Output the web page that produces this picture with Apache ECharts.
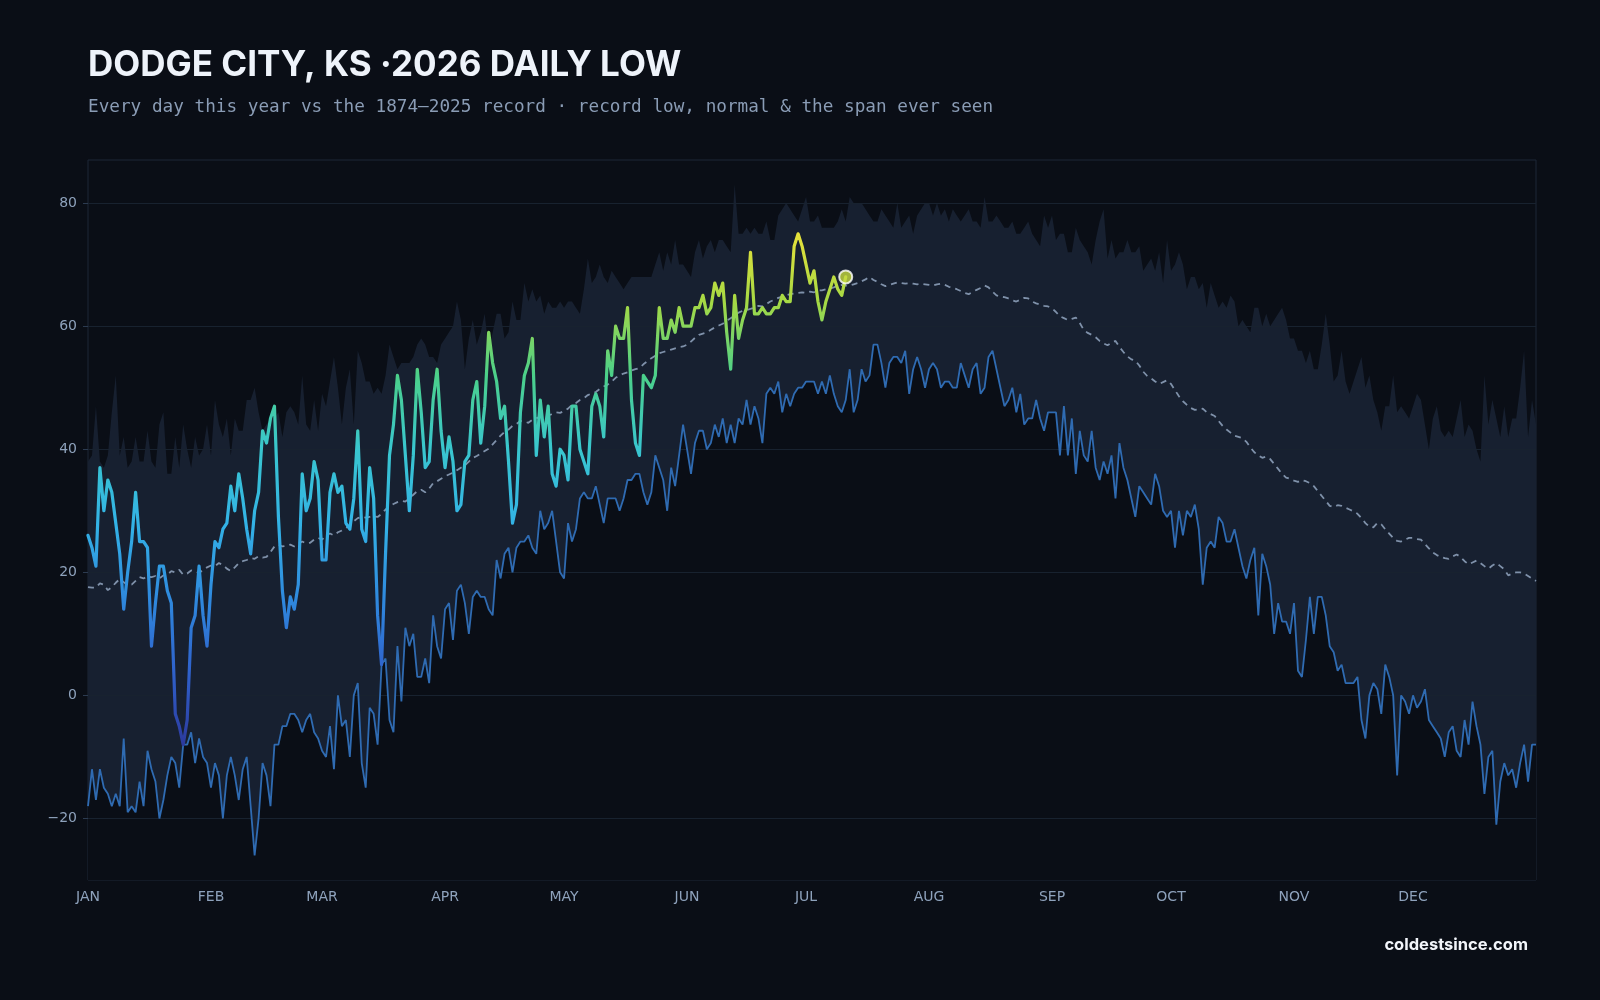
<!DOCTYPE html>
<html><head><meta charset="utf-8">
<style>html,body{margin:0;padding:0;background:#0a0e16;}#c{width:1600px;height:1000px;}</style>
<script src="https://cdn.jsdelivr.net/npm/echarts@6/dist/echarts.min.js"></script>
</head><body><div id="c"></div>
<script>
// Month tick positions (day-of-year index) and labels
const monthDays = [0,31,59,90,120,151,181,212,243,273,304,334];
const monthLabels = ['JAN','FEB','MAR','APR','MAY','JUN','JUL','AUG','SEP','OCT','NOV','DEC'];
const yTicks = [-20,0,20,40,60,80];

// Record high daily low (top of the span), day 0..365
const recordHigh = [
38,39,47,38,37,39,46,52,39,42,
37,38,42,38,38,43,38,37,44,46,
36,36,42,37,44,40,37,42,39,40,
44,39,48,44,42,45,39,45,43,43,
48,48,50,46,43,44,45,45,46,42,
46,47,46,44,52,44,43,48,43,49,
47,51,55,50,44,50,53,44,56,54,
51,51,49,50,49,52,57,55,53,54,
54,54,55,57,58,57,55,55,54,57,
58,59,60,64,61,53,58,61,57,59,
62,56,59,62,62,58,59,64,61,61,
67,64,66,64,65,62,64,63,63,64,
63,64,64,63,62,66,71,67,68,70,
68,67,69,68,67,66,67,68,68,68,
68,68,68,70,72,69,72,70,74,70,
70,69,68,72,74,71,73,74,72,74,
74,73,72,83,75,75,76,75,76,75,
75,77,74,74,78,79,80,79,78,77,
79,81,77,77,78,76,76,76,76,77,
79,77,81,80,80,80,79,78,77,77,
79,78,77,76,80,76,77,78,75,78,
79,80,80,78,80,78,79,77,79,78,
77,78,79,77,77,76,81,77,77,78,
77,76,76,77,75,75,76,77,75,74,
73,78,76,78,74,75,75,72,72,76,
74,73,72,70,74,77,79,71,74,71,
72,72,74,72,72,73,69,70,71,69,
72,67,74,69,70,72,70,66,68,68,
66,67,63,67,65,63,64,63,65,64,
60,61,60,59,63,63,60,62,60,61,
62,63,61,58,58,56,56,54,56,53,
53,57,62,57,51,52,56,51,49,51,
53,55,50,52,48,46,43,47,47,52,
46,47,46,45,47,49,48,44,40,45,
47,43,42,43,42,45,48,42,44,43,
40,38,52,44,48,45,42,47,42,45,
45,50,56,42,48,44];

// Record low daily low, day 0..365
const recordLow = [
-18,-12,-17,-12,-15,-16,-18,-16,-18,-7,
-19,-18,-19,-14,-18,-9,-12,-14,-20,-17,
-13,-10,-11,-15,-8,-8,-6,-11,-7,-10,
-11,-15,-11,-13,-20,-13,-10,-13,-17,-12,
-10,-18,-26,-20,-11,-13,-18,-8,-8,-5,
-5,-3,-3,-4,-6,-4,-3,-6,-7,-9,
-10,-5,-12,0,-5,-4,-10,0,2,-11,
-15,-2,-3,-8,5,6,-4,-6,8,-1,
11,8,10,3,3,6,2,13,8,6,
14,15,9,17,18,15,10,16,17,16,
16,14,13,22,19,23,24,20,24,25,
25,26,24,23,30,27,28,30,25,20,
19,28,25,27,32,33,32,32,34,31,
28,32,32,32,30,32,35,35,36,36,
33,31,33,39,37,35,30,37,34,39,
44,40,36,41,43,43,40,41,44,42,
45,41,44,41,45,44,48,44,47,45,
41,49,50,49,51,46,49,47,49,50,
50,51,51,51,49,51,49,52,49,47,
46,48,53,46,48,53,51,52,57,57,
54,50,54,55,55,54,56,49,53,55,
53,50,53,54,53,50,51,51,50,50,
54,52,50,53,54,49,50,55,56,53,
50,47,48,50,46,49,44,45,45,48,
45,43,46,46,46,39,47,39,45,36,
43,39,38,43,37,35,38,36,39,32,
41,37,35,32,29,34,33,32,31,36,
34,30,29,30,24,30,26,30,29,31,
27,18,24,25,24,29,28,25,25,27,
24,21,19,22,24,13,23,21,18,10,
15,12,12,10,15,4,3,9,16,10,
16,16,13,8,7,4,5,2,2,2,
3,-4,-7,0,2,1,-3,5,3,0,
-13,0,-1,-3,0,-2,-1,1,-4,-5,
-6,-7,-10,-6,-5,-9,-10,-4,-8,-1,
-5,-8,-16,-10,-9,-21,-14,-11,-13,-12,
-15,-11,-8,-14,-8,-8];

// Normal daily low, day 0..365
const normalLow = [
17.6,17.5,17.5,18.2,18.0,17.1,17.6,18.3,18.9,18.4,
17.9,18.0,18.6,19.2,19.0,19.3,19.2,19.4,19.0,19.5,
19.6,20.2,20.0,20.4,19.6,19.8,20.3,20.1,19.9,20.4,
20.8,21.1,21.0,21.5,21.2,20.6,20.2,20.8,21.5,21.8,
22.0,22.3,22.2,22.6,22.4,22.5,23.3,24.2,24.5,24.2,
24.3,24.5,24.2,24.6,25.0,24.7,24.8,25.3,25.6,25.3,
26.0,26.3,26.0,26.5,26.8,27.2,27.6,28.3,28.8,29.0,
28.9,29.0,29.1,29.0,29.5,30.2,30.7,31.1,31.4,31.6,
31.5,32.0,32.6,33.2,33.4,33.0,33.6,34.5,34.8,35.2,
35.6,35.9,36.2,36.6,37.0,37.4,38.0,38.6,38.9,39.3,
39.7,40.1,40.8,41.5,42.2,42.8,43.2,43.8,44.1,44.6,
44.5,44.3,44.8,45.0,45.3,45.1,45.5,45.7,46.0,45.9,
46.2,46.6,47.2,47.5,48.0,48.3,48.8,49.1,49.3,49.8,
50.2,50.5,51.0,51.6,52.0,52.3,52.5,52.8,53.0,53.2,
53.8,54.3,54.8,55.2,55.6,55.8,56.0,56.2,56.4,56.6,
56.7,57.0,57.5,58.1,58.6,58.8,59.0,59.4,59.8,60.1,
60.4,60.9,61.3,61.7,62.2,62.5,62.6,62.8,63.0,63.3,
63.2,63.6,64.0,64.3,64.6,64.8,65.0,65.2,65.3,65.4,
65.5,65.4,65.6,65.5,65.8,65.8,66.0,66.1,66.3,66.6,
66.7,66.6,66.6,66.8,67.0,67.3,67.6,68.0,67.5,67.2,
66.8,66.5,66.7,66.9,67.1,67.0,66.9,67.0,66.9,66.8,
66.9,66.8,66.7,66.6,66.8,66.9,66.7,66.4,66.2,66.0,
65.7,65.4,65.2,65.6,65.9,66.2,66.6,66.3,65.6,65.0,
64.8,64.7,64.5,64.2,64.0,64.3,64.6,64.5,64.0,63.7,
63.5,63.3,63.2,62.9,62.3,61.6,61.3,61.0,61.2,61.4,
60.5,59.4,58.9,58.6,58.2,57.6,57.2,56.9,57.3,57.6,
56.6,55.8,55.1,54.6,54.4,53.6,52.6,51.9,51.5,51.0,
50.6,50.9,51.2,50.6,49.6,48.6,47.8,47.2,46.7,46.4,
46.5,46.6,46.0,45.7,45.4,44.6,43.8,43.2,42.7,42.2,
42.0,41.8,41.2,40.3,39.5,39.0,38.6,38.8,38.4,37.6,
36.8,36.0,35.4,35.2,34.9,34.7,35.0,34.8,34.5,34.0,
33.2,32.4,31.6,30.8,30.6,30.9,30.8,30.5,30.2,29.9,
29.5,28.8,28.0,27.4,27.3,28.0,27.8,27.0,26.3,25.6,
25.1,25.0,25.3,25.6,25.6,25.4,25.3,24.6,23.9,23.2,
22.8,22.5,22.3,22.2,22.6,22.9,22.5,21.8,21.3,21.6,
21.9,21.5,21.0,20.6,21.1,21.5,21.0,20.5,19.5,19.8,
20.0,20.0,19.8,19.4,19.0,18.6];

// 2026 observed daily low, day 0..191
const thisYear = [
26,24,21,37,30,35,33,28,23,14,
20,25,33,25,25,24,8,15,21,21,
17,15,-3,-5,-8,-4,11,13,21,13,
8,18,25,24,27,28,34,30,36,32,
27,23,30,33,43,41,45,47,29,17,
11,16,14,18,36,30,32,38,35,22,
22,33,36,33,34,28,27,32,43,27,
25,37,32,13,5,23,39,44,52,48,
39,30,39,53,46,37,38,48,53,43,
37,42,38,30,31,38,39,48,51,41,
47,59,54,51,45,47,38,28,31,46,
52,54,58,39,48,42,47,36,34,40,
39,35,47,47,40,38,36,47,49,47,
42,56,52,60,58,58,63,48,41,39,
52,51,50,52,63,58,58,61,59,63,
60,60,60,63,63,65,62,63,67,65,
67,59,53,65,58,61,63,72,62,62,
63,62,62,63,63,65,64,64,73,75,
73,70,67,69,64,61,64,66,68,66,
65,68];

const pair = arr => arr.map((v, i) => [i, v]);
const lastIdx = thisYear.length - 1;
const BG = '#0a0e16';

const chart = echarts.init(document.getElementById('c'), null, {renderer: 'canvas'});
chart.setOption({
  backgroundColor: BG,
  animation: false,
  grid: {left: 88, right: 64, top: 160, bottom: 120, show: true, borderColor: '#1c2737', borderWidth: 1, backgroundColor: 'transparent'},
  xAxis: {
    type: 'value', min: 0, max: 365,
    axisLine: {show: false},
    splitLine: {show: false},
    axisTick: {show: true, customValues: monthDays, length: 5, lineStyle: {color: '#2c3b50'}},
    axisLabel: {
      customValues: monthDays, margin: 10, color: '#8ea2bc', fontSize: 14, fontFamily: 'DejaVu Sans',
      formatter: v => monthLabels[monthDays.indexOf(v)] || ''
    }
  },
  yAxis: {
    type: 'value', min: -30, max: 87,
    axisLine: {show: false},
    splitLine: {show: false},
    axisTick: {show: true, customValues: yTicks, length: 5, lineStyle: {color: '#2c3b50'}},
    axisLabel: {
      customValues: yTicks, margin: 11, color: '#8ea2bc', fontSize: 14, fontFamily: 'DejaVu Sans',
      formatter: v => (v < 0 ? '\u2212' + Math.abs(v) : String(v))
    }
  },
  visualMap: {
    show: false, type: 'continuous', dimension: 1, seriesIndex: 4,
    min: -8, max: 76,
    inRange: {color: ['#2c3a9e', '#2f62cc', '#2f8ade', '#33b3e6', '#39c6cf', '#4bd08a', '#a6d944', '#ece23a']}
  },
  series: [
    {
      name: 'spanTop', type: 'line', data: pair(recordHigh), symbol: 'none',
      lineStyle: {width: 0, opacity: 0}, areaStyle: {origin: 'start', color: '#172030', opacity: 1}, silent: true, z: 1
    },
    {
      name: 'spanMask', type: 'line', data: pair(recordLow), symbol: 'none',
      lineStyle: {width: 0, opacity: 0}, areaStyle: {origin: 'start', color: BG, opacity: 1}, silent: true, z: 1
    },
    {
      name: 'Record low', type: 'line', data: pair(recordLow), symbol: 'none',
      lineStyle: {color: '#2f6bb2', width: 1.8}, z: 3,
      markLine: {
        silent: true, symbol: 'none', label: {show: false}, z: 2,
        lineStyle: {color: '#18222f', width: 1, type: 'solid'},
        data: yTicks.map(v => ({yAxis: v}))
      }
    },
    {
      name: 'Normal', type: 'line', data: pair(normalLow), symbol: 'none',
      lineStyle: {color: '#7f91aa', width: 1.8, type: [6, 5]}, z: 4
    },
    {
      name: '2026', type: 'line', data: pair(thisYear), symbol: 'none',
      lineStyle: {width: 3.2, join: 'round', cap: 'round'}, z: 5
    },
    {
      name: 'today', type: 'scatter', data: [[lastIdx, thisYear[lastIdx]]],
      symbolSize: 13, itemStyle: {color: '#c5da40', borderColor: '#ffffff', borderWidth: 2}, z: 6
    }
  ],
  graphic: [
    {type: 'text', left: 88, top: 48, style: {text: 'DODGE CITY, KS \u00b72026 DAILY LOW', fill: '#eef3fa', font: 'bold 35px Inter'}},
    {type: 'text', left: 88, top: 98, style: {text: 'Every day this year vs the 1874\u20132025 record \u00b7 record low, normal & the span ever seen', fill: '#8a9cb5', font: '17.7px "DejaVu Sans Mono"'}},
    {type: 'text', right: 72, top: 937, style: {text: 'coldestsince.com', fill: '#f2f5fa', font: 'bold 16.5px Inter', textAlign: 'right'}}
  ]
});
</script>
</body></html>
